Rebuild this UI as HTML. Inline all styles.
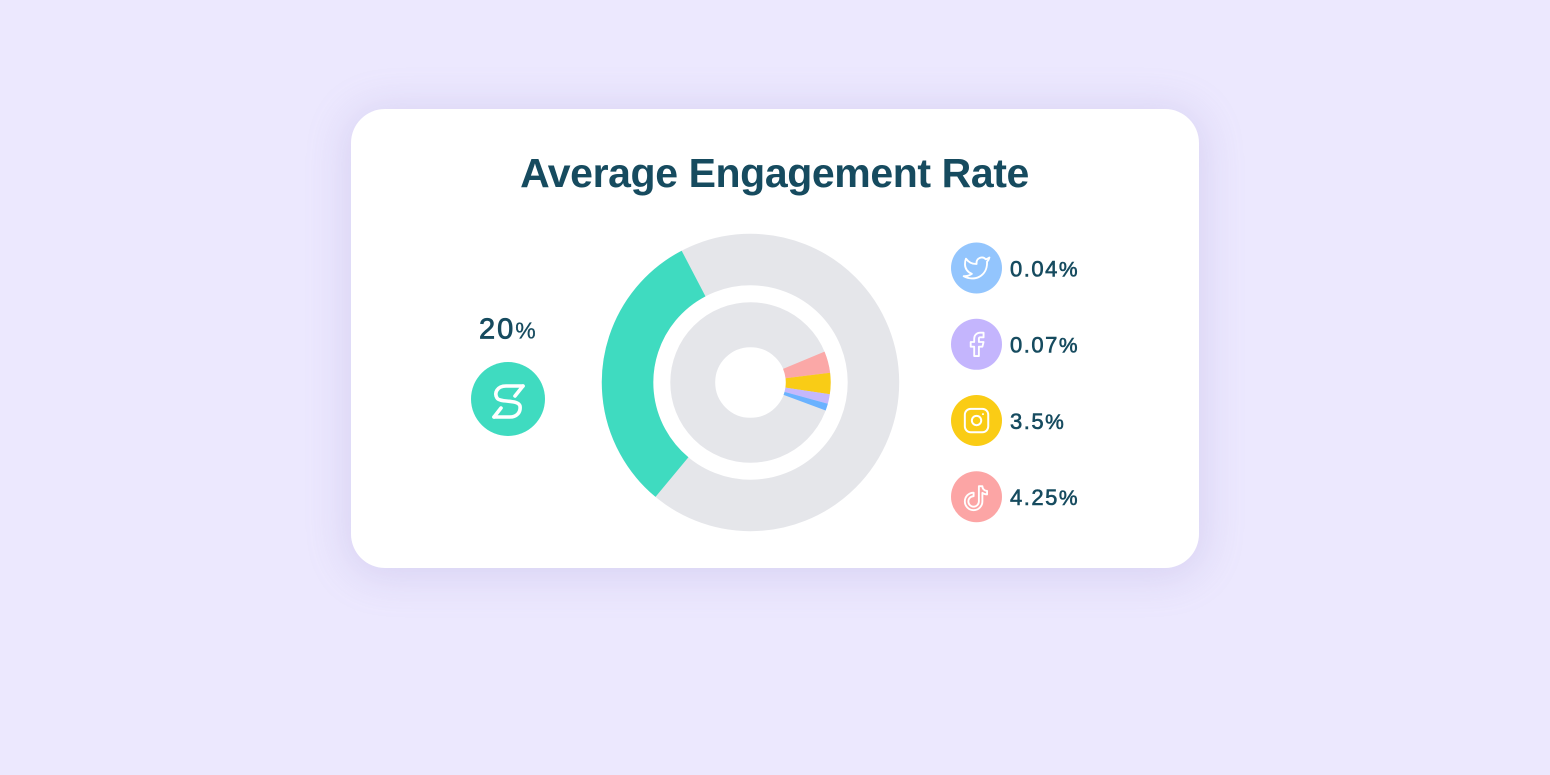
<!DOCTYPE html>
<html>
<head>
<meta charset="utf-8">
<style>
  html,body{margin:0;padding:0;}
  body{width:1550px;height:775px;background:#ECE8FE;position:relative;overflow:hidden;font-family:"Liberation Sans",sans-serif;}
  .card{position:absolute;left:351px;top:109px;width:848px;height:459px;background:#fff;border-radius:34px;
        box-shadow:0 4px 40px 6px rgba(150,138,205,0.22);}
  svg{position:absolute;left:0;top:0;}
</style>
</head>
<body>
<div class="card"></div>
<svg width="1550" height="775" viewBox="0 0 1550 775" xmlns="http://www.w3.org/2000/svg">
  <!-- Title -->
  <text x="774.5" y="187" text-anchor="middle" font-family="Liberation Sans, sans-serif" font-weight="bold" font-size="41" letter-spacing="-0.4" fill="#164B5F">Average Engagement Rate</text>

  <!-- Left: 20% -->
  <text x="479" y="338.5" font-family="Liberation Sans, sans-serif" font-size="29" fill="#164B5F" stroke="#164B5F" stroke-width="0.8" letter-spacing="2">20<tspan font-size="23" stroke-width="0.3">%</tspan></text>
  <circle cx="508" cy="399" r="37" fill="#3FDBC0"/>
  <g fill="none" stroke="#fff" stroke-width="3.6" stroke-linejoin="round" stroke-linecap="round">
    <path d="M523 386 H506 C497 386 494 393 497 398 C500 403 518 399 520 406 C521 413 516 417 510 417 H494"/>
    <path d="M523 386 L515 396"/>
    <path d="M494 417 L501 408"/>
  </g>

  <!-- Outer ring -->
  <circle cx="750.5" cy="382.5" r="122.95" fill="none" stroke="#E5E6EA" stroke-width="51.5"/>
  <circle cx="750.5" cy="382.5" r="122.95" fill="none" stroke="#3FDBC0" stroke-width="51.5"
          stroke-dasharray="241.8 1000" transform="rotate(129.7 750.5 382.5)"/>

  <!-- Inner ring -->
  <circle cx="750.5" cy="382.5" r="57.75" fill="none" stroke="#E5E6EA" stroke-width="44.9"/>
  <circle cx="750.5" cy="382.5" r="57.75" fill="none" stroke="#FBA8A7" stroke-width="44.9"
          stroke-dasharray="15.77 1000" transform="rotate(-22.65 750.5 382.5)"/>
  <circle cx="750.5" cy="382.5" r="57.75" fill="none" stroke="#F9CC16" stroke-width="44.9"
          stroke-dasharray="15.52 1000" transform="rotate(-7 750.5 382.5)"/>
  <circle cx="750.5" cy="382.5" r="57.75" fill="none" stroke="#C5B8FC" stroke-width="44.9"
          stroke-dasharray="7.06 1000" transform="rotate(8.4 750.5 382.5)"/>
  <circle cx="750.5" cy="382.5" r="57.75" fill="none" stroke="#6AB2FF" stroke-width="44.9"
          stroke-dasharray="5.14 1000" transform="rotate(15.4 750.5 382.5)"/>

  <!-- Legend circles -->
  <circle cx="976.5" cy="268" r="25.5" fill="#93C5FD"/>
  <circle cx="976.5" cy="344.3" r="25.5" fill="#C4B5FD"/>
  <circle cx="976.5" cy="420.5" r="25.5" fill="#FACC15"/>
  <circle cx="976.5" cy="496.7" r="25.5" fill="#FCA5A5"/>

  <!-- Twitter icon -->
  <g transform="translate(962.5 254) scale(1.17)" fill="none" stroke="#fff" stroke-width="1.6" stroke-linejoin="round" stroke-linecap="round">
    <path d="M23 3a10.9 10.9 0 0 1-3.14 1.53 4.48 4.48 0 0 0-7.86 3v1A10.66 10.66 0 0 1 3 4s-4 9 5 13a11.64 11.64 0 0 1-7 2c9 5 20 0 20-11.5a4.5 4.5 0 0 0-.08-.83A7.72 7.72 0 0 0 23 3z"/>
  </g>
  <!-- Facebook icon -->
  <g transform="translate(962.5 330.3) scale(1.17)" fill="none" stroke="#fff" stroke-width="1.6" stroke-linejoin="round" stroke-linecap="round">
    <path d="M18 2h-3a5 5 0 0 0-5 5v3H7v4h3v8h4v-8h3l1-4h-4V7a1 1 0 0 1 1-1h3z"/>
  </g>
  <!-- Instagram icon -->
  <g transform="translate(962.5 406.5) scale(1.17)" fill="none" stroke="#fff" stroke-width="1.7" stroke-linejoin="round" stroke-linecap="round">
    <rect x="2" y="2" width="20" height="20" rx="5" ry="5"/>
    <circle cx="12" cy="12" r="4"/>
    <line x1="17.5" y1="6.5" x2="17.51" y2="6.5"/>
  </g>
  <!-- TikTok icon -->
  <g transform="translate(962.5 482.7) scale(1.17)" fill="none" stroke="#fff" stroke-width="1.6" stroke-linejoin="round" stroke-linecap="round">
    <path d="M9.5 11.5a4.5 4.5 0 1 0 4.5 4.5V3h3a4 4 0 0 0 4 4v3a7 7 0 0 1-4-1.3V16a7.5 7.5 0 1 1-7.5-7.5z"/>
  </g>

  <!-- Legend text -->
  <g font-family="Liberation Sans, sans-serif" font-size="22" fill="#164B5F" stroke="#164B5F" stroke-width="0.6" letter-spacing="1.5">
    <text x="1010" y="276.5">0.04<tspan font-size="21">%</tspan></text>
    <text x="1010" y="352.7">0.07<tspan font-size="21">%</tspan></text>
    <text x="1010" y="428.8">3.5<tspan font-size="21">%</tspan></text>
    <text x="1010" y="505">4.25<tspan font-size="21">%</tspan></text>
  </g>
</svg>
</body>
</html>
